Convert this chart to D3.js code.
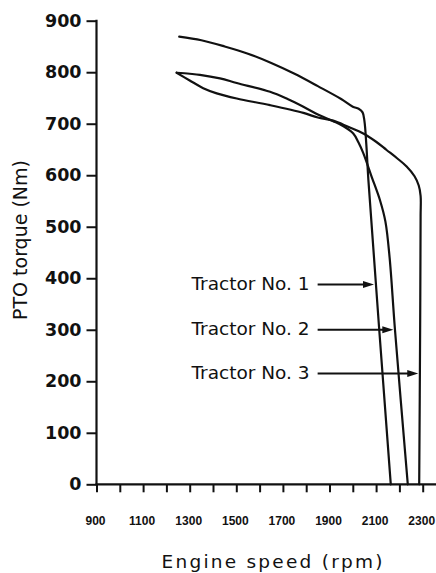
<!DOCTYPE html>
<html><head><meta charset="utf-8">
<script src="https://cdn.jsdelivr.net/npm/d3@7/dist/d3.min.js"></script>
<style>html,body{margin:0;padding:0;background:#fff;} svg{display:block;}</style>
</head><body><svg id="c" width="436" height="573"></svg>
<script>
// ---- data ----
const rpmTicks = [900,1000,1100,1200,1300,1400,1500,1600,1700,1800,1900,2000,2100,2200,2300];
const rpmLabels = [900,1100,1300,1500,1700,1900,2100,2300];
const torqueTicks = [0,100,200,300,400,500,600,700,800,900];

const tractor1Rpm    = [1255,1350,1450,1550,1650,1750,1850,1950,2000,2025,2042,2050,2058,2067,2163];
const tractor1Torque = [ 869, 862, 850, 836, 818, 797, 773, 748, 733, 729, 722, 705, 660, 590,   0];

const tractor2Rpm    = [1244,1300,1344,1430,1502,1645,1720,1788,1850,1916,1960,2002,2024,2045,2081,2117,2140,2158,2181,2236];
const tractor2Torque = [ 799, 797, 795, 788, 779, 762, 748, 733, 718, 705, 695, 681, 664, 643, 597, 551, 510, 440, 300,   0];

const tractor3Rpm    = [1244,1300,1358,1416,1502,1645,1788,1850,1916,1980,2045,2100,2145,2190,2231,2265,2283,2291,2291,2289,2285];
const tractor3Torque = [ 799, 784, 769, 759, 749, 736, 721, 712, 706, 694, 681, 665, 649, 633, 617, 598, 580, 560, 520, 300,   0];

const seriesNames  = ["Tractor No. 1","Tractor No. 2","Tractor No. 3"];
const arrowTorque  = [388, 300, 215];
const arrowRpm     = [2091, 2174, 2281];

// ---- chart ----
const svg = d3.select("#c");
const x = d3.scaleLinear().domain([900,2300]).range([96.5,422.7]);
const y = d3.scaleLinear().domain([0,900]).range([484.3,20.7]);
const ink = "#111";

// y axis
const ya = svg.append("g").attr("transform",`translate(${x(900)},0)`)
  .call(d3.axisLeft(y).tickValues(torqueTicks).tickSize(10).tickPadding(5).tickFormat(d3.format("d")));
ya.select(".domain").remove();
ya.selectAll(".tick line").attr("stroke",ink).attr("stroke-width",2);
ya.selectAll(".tick text").attr("fill",ink).style("font-family","'DejaVu Sans', sans-serif")
  .style("font-weight","bold").style("font-size","17.5px");
svg.append("line").attr("x1",x(900)).attr("x2",x(900)).attr("y1",y(900)-1).attr("y2",y(0))
  .attr("stroke",ink).attr("stroke-width",2.2);

// x axis
const xa = svg.append("g").attr("transform",`translate(0,${y(0)})`)
  .call(d3.axisBottom(x).tickValues(rpmTicks).tickSize(8).tickFormat(d => rpmLabels.includes(d) ? d : ""));
xa.select(".domain").remove();
xa.selectAll(".tick line").attr("stroke",ink).attr("stroke-width",2);
xa.selectAll(".tick text").attr("fill",ink).attr("y",41).attr("dy",0).attr("x",-1.5)
  .style("font-family","'Liberation Sans', Arial, sans-serif")
  .style("font-weight","bold").style("font-size","12px");
svg.append("line").attr("x1",x(900)-1).attr("x2",436).attr("y1",y(0)).attr("y2",y(0))
  .attr("stroke",ink).attr("stroke-width",2.2);

// titles
svg.append("text").attr("x",272).attr("y",568).attr("text-anchor","middle")
  .attr("textLength",221).attr("lengthAdjust","spacing")
  .style("font-family","'DejaVu Sans', sans-serif").style("font-size","18.5px").attr("fill",ink)
  .text("Engine speed (rpm)");
svg.append("text").attr("transform","translate(27,240) rotate(-90)").attr("text-anchor","middle")
  .style("font-family","'DejaVu Sans', sans-serif").style("font-size","19px").attr("fill",ink)
  .text("PTO torque (Nm)");

// curves
const line = d3.line().x(d => x(d[0])).y(d => y(d[1])).curve(d3.curveCatmullRom.alpha(0.5));
[[tractor1Rpm,tractor1Torque],[tractor2Rpm,tractor2Torque],[tractor3Rpm,tractor3Torque]].forEach(([r,t]) => {
  svg.append("path").datum(r.map((v,i)=>[v,t[i]])).attr("d",line)
    .attr("fill","none").attr("stroke",ink).attr("stroke-width",2.2)
    .attr("stroke-linejoin","round").attr("stroke-linecap","round");
});

// annotations
seriesNames.forEach((name,i) => {
  const yy = y(arrowTorque[i]);
  const tip = x(arrowRpm[i]);
  const tx = svg.append("text").attr("x",191.5).attr("y",yy+5.5)
    .style("font-family","'DejaVu Sans', sans-serif").style("font-size","18.5px").attr("fill",ink)
    .text(name);
  const w = tx.node().getComputedTextLength();
  svg.append("line").attr("x1",191.5+w+8).attr("x2",tip-8).attr("y1",yy).attr("y2",yy)
    .attr("stroke",ink).attr("stroke-width",2);
  svg.append("path").attr("d",`M${tip},${yy} L${tip-11},${yy-3.5} L${tip-11},${yy+3.5} Z`).attr("fill",ink);
});
</script></body></html>
